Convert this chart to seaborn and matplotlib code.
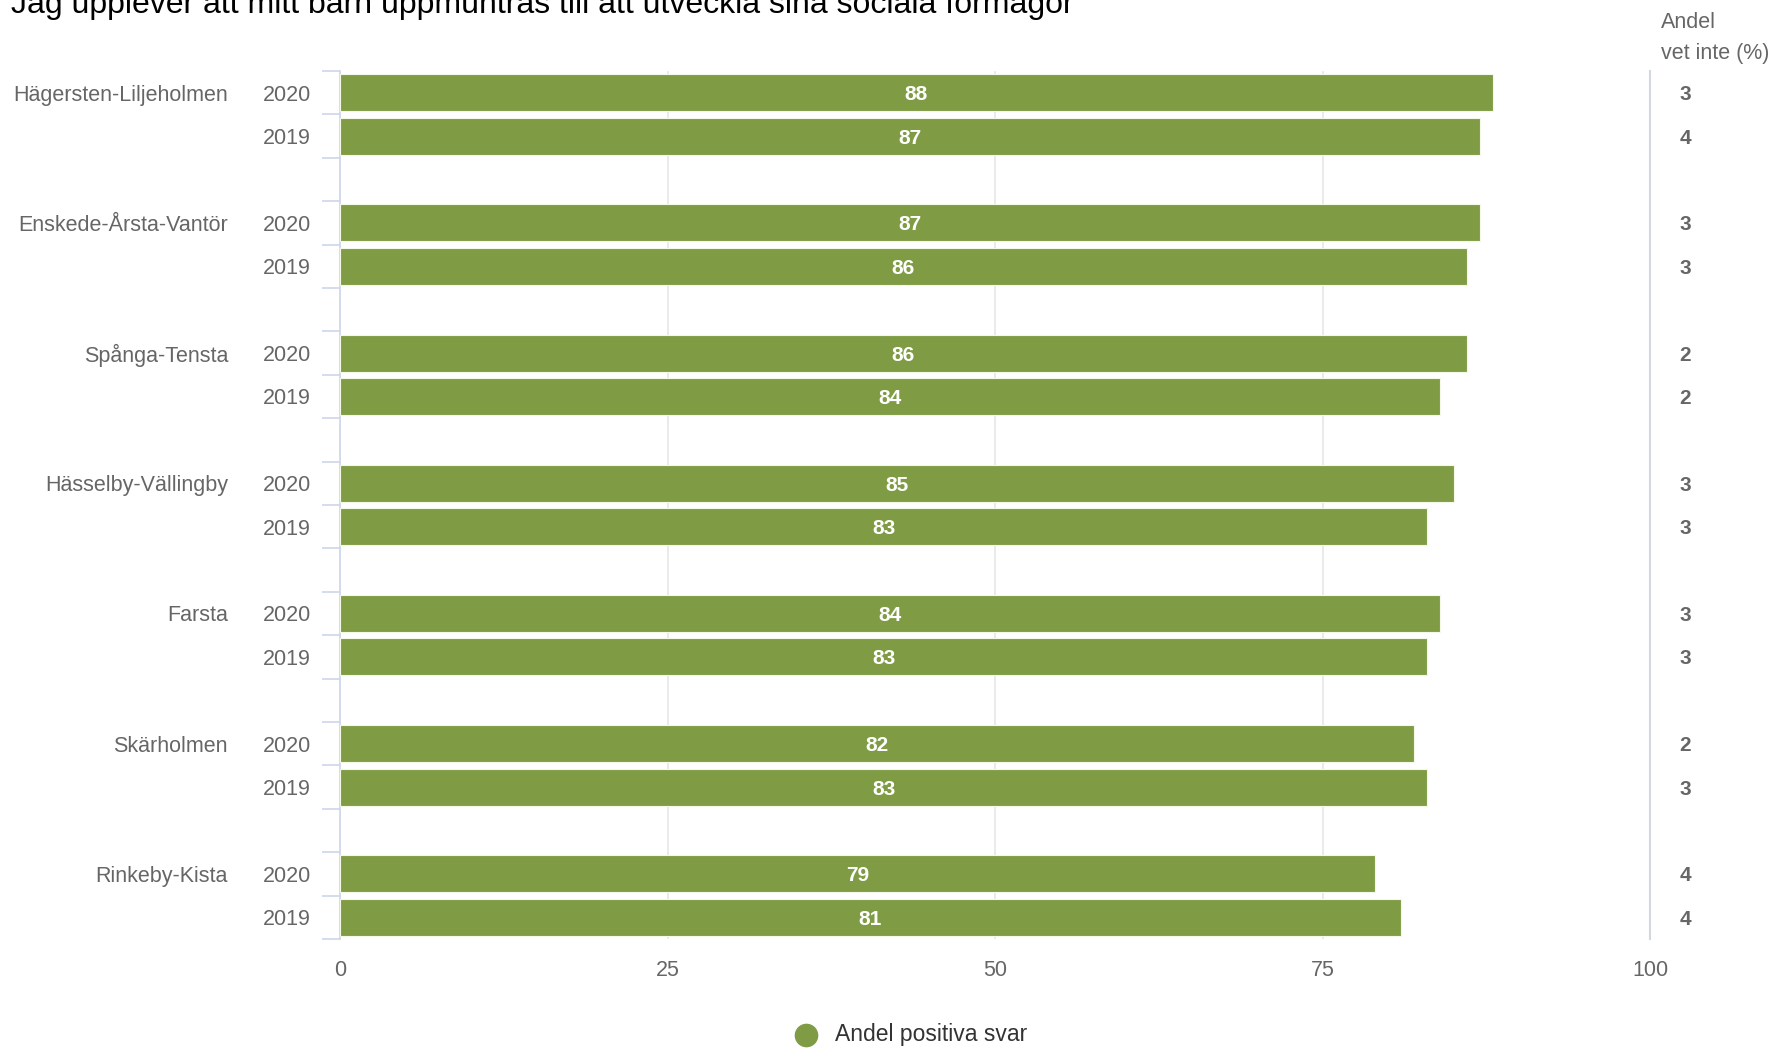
import pandas as pd
import matplotlib.pyplot as plt
from matplotlib.lines import Line2D
import seaborn as sns

# data
districts = ['Hägersten-Liljeholmen', 'Enskede-Årsta-Vantör', 'Spånga-Tensta',
             'Hässelby-Vällingby', 'Farsta', 'Skärholmen', 'Rinkeby-Kista']
years = ['2020', '2019']
positiva_2020 = [88, 87, 86, 85, 84, 82, 79]
positiva_2019 = [87, 86, 84, 83, 83, 83, 81]
vet_inte_2020 = [3, 3, 2, 3, 3, 2, 4]
vet_inte_2019 = [4, 3, 2, 3, 3, 3, 4]
x_ticks = [0, 25, 50, 75, 100]

title = 'Jag upplever att mitt barn uppmuntras till att utveckla sina sociala förmågor'
legend_label = 'Andel positiva svar'

# long table + slot order (one empty slot between districts)
rows = []
order = []
for i, d in enumerate(districts):
    for y, pos, vi in zip(years, [positiva_2020[i], positiva_2019[i]], [vet_inte_2020[i], vet_inte_2019[i]]):
        key = f'{d} {y}'
        rows.append({'rad': key, 'distrikt': d, 'ar': y, 'andel': pos, 'vet_inte': vi})
        order.append(key)
    if i < len(districts) - 1:
        order.append(' ' * (i + 1))
df = pd.DataFrame(rows)

GREEN = '#7f9c44'
GREY = '#666666'
AXIS = '#ccd6eb'

sns.set_theme(style='white')
plt.rcParams['font.family'] = ['Liberation Sans', 'DejaVu Sans']

fig = plt.figure(figsize=(17.85, 10.48), dpi=100)
ax = fig.add_axes([340 / 1785, 1 - 939 / 1048, 1310 / 1785, 868 / 1048])

sns.barplot(data=df, y='rad', x='andel', order=order, color=GREEN, width=0.85,
            saturation=1, edgecolor='#f4f8e8', linewidth=0.8, ax=ax, zorder=3)

ax.set_xlim(0, 100)
ax.set_ylim(len(order) - 0.5, -0.5)
ax.set_xticks(x_ticks)
ax.set_xticklabels([str(t) for t in x_ticks])
ax.grid(axis='x', color='#e6e6e6', linewidth=1.2, zorder=0)
ax.grid(axis='y', visible=False)
ax.set_xlabel('')
ax.set_ylabel('')

# y labels: years at bar centres, ticks at slot borders
ax.set_yticks(range(len(order)))
ax.set_yticklabels([k.split(' ')[-1] if k.strip() else '' for k in order])
ax.set_yticks([i - 0.5 for i in range(len(order) + 1)], minor=True)
ax.tick_params(axis='y', which='major', length=0, pad=21, labelsize=15.5, labelcolor=GREY)
ax.tick_params(axis='y', which='minor', length=13, width=1.2, color=AXIS, left=True)
ax.tick_params(axis='x', length=0, pad=15, labelsize=15.5, labelcolor=GREY)

for s in ['top', 'bottom']:
    ax.spines[s].set_visible(False)
ax.spines['left'].set_color(AXIS)
ax.spines['left'].set_linewidth(1.2)
ax.spines['right'].set_color('#d3d7df')
ax.spines['right'].set_linewidth(1.5)

# data labels, district names and "vet inte" column
ytr = ax.get_yaxis_transform()
for _, r in df.iterrows():
    yi = order.index(r['rad'])
    ax.text(r['andel'] / 2, yi, str(r['andel']), ha='center', va='center_baseline',
            color='white', fontsize=15, fontweight='bold', zorder=5)
    ax.text(1.0267, yi, str(r['vet_inte']), transform=ytr, ha='center', va='center_baseline',
            color=GREY, fontsize=15, fontweight='bold')
    if r['ar'] == '2020':
        ax.text(-0.0855, yi, r['distrikt'], transform=ytr, ha='right', va='center_baseline',
                color=GREY, fontsize=15.5)

fig.text(1661 / 1785, 1 - 23 / 1048, 'Andel', ha='left', va='center', color=GREY, fontsize=15.5)
fig.text(1661 / 1785, 1 - 53 / 1048, 'vet inte (%)', ha='left', va='center', color=GREY, fontsize=15.5)

fig.text(11 / 1785, 1 - 13 / 1048, title, ha='left', va='baseline', color='black', fontsize=23)

# legend
fig.add_artist(Line2D([806 / 1785], [1 - 1035 / 1048], marker='o', markersize=16, linestyle='none',
                      color=GREEN, transform=fig.transFigure))
fig.text(835 / 1785, 1 - 1035 / 1048, legend_label, ha='left', va='center', color='#333333', fontsize=16.5)

fig.savefig('out.png', dpi=100)
